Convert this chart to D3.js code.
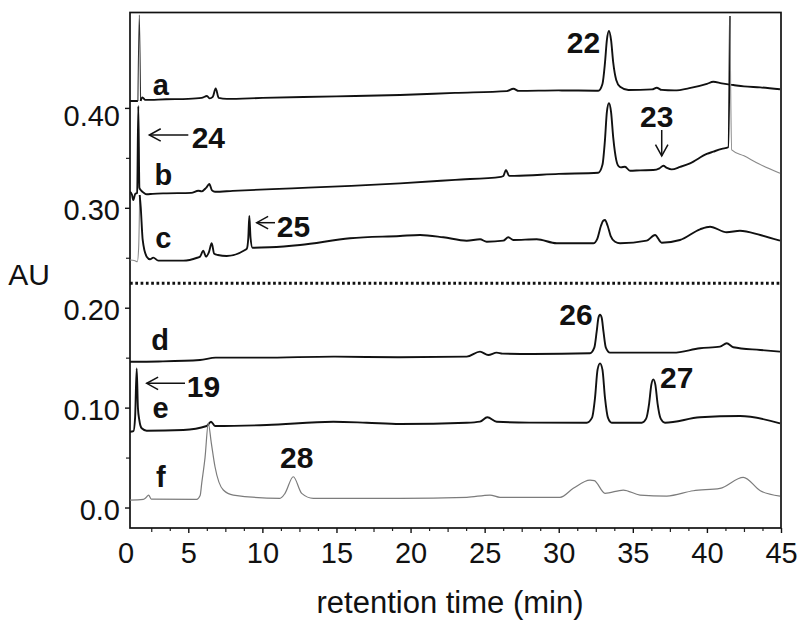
<!DOCTYPE html>
<html><head><meta charset="utf-8">
<script src="https://cdn.jsdelivr.net/npm/d3@7/dist/d3.min.js"></script>
<style>body{margin:0;background:#fff}svg{display:block}</style>
</head><body><svg id="chart" width="800" height="629"></svg>
<script>
// ---------------- data (retention time in min, absorbance in AU) ----------------
const traceA = [[1.066,0.4069],[1.60,0.4069],[1.694,0.493],[1.78,0.4069],[1.90,0.4105],[2.10,0.4080],[3.5,0.4086],[5.0,0.4090],[5.9,0.4100],[6.26,0.4119],[6.45,0.4095],[6.65,0.4110],[6.85,0.4196],[7.05,0.4100],[7.6,0.4090],[10,0.4100],[15,0.4115],[19.29,0.4129],[23,0.4150],[26.5,0.4168],[26.94,0.4192],[27.3,0.4170],[30,0.4175],[32.67,0.4172],[32.95,0.4240],[33.12,0.4450],[33.25,0.4680],[33.39,0.4770],[33.53,0.4680],[33.68,0.4450],[33.88,0.4280],[34.14,0.4212],[34.7,0.4180],[36.3,0.4185],[36.61,0.4202],[36.95,0.4180],[37.8,0.4175],[38.9,0.4200],[40.0,0.4240],[40.43,0.4262],[41.0,0.4245],[41.78,0.4229],[42.5,0.4215],[43.6,0.4205],[44.93,0.4186]];
const traceB = [[1.066,0.3161],[1.20,0.3130],[1.289,0.3078],[1.42,0.3140],[1.55,0.3150],[1.626,0.4019],[1.70,0.3200],[1.788,0.3178],[2.0,0.3150],[2.193,0.3135],[2.6,0.3140],[3.543,0.3145],[5.2,0.3150],[5.676,0.3171],[5.9,0.3165],[6.2,0.3200],[6.418,0.3238],[6.6,0.3175],[6.8,0.3161],[8,0.3170],[12,0.3195],[16,0.3220],[19.29,0.3245],[23,0.3280],[26.1,0.3310],[26.26,0.3318],[26.44,0.3378],[26.65,0.3320],[27,0.3320],[30,0.3340],[32.67,0.3351],[32.95,0.3430],[33.12,0.3680],[33.25,0.3960],[33.39,0.4046],[33.53,0.3960],[33.68,0.3700],[33.88,0.3480],[34.05,0.3415],[34.2,0.3405],[34.47,0.3411],[34.81,0.3371],[35.5,0.3375],[36.38,0.3378],[36.80,0.3395],[37.06,0.3421],[37.3,0.3400],[37.62,0.3385],[38.2,0.3410],[38.86,0.3445],[39.99,0.3539],[40.43,0.3562],[41.0,0.3590],[41.44,0.3606],[41.559,0.492],[41.673,0.3579],[42.5,0.3520],[43.5,0.3440],[44.933,0.3345]];
const traceC = [[1.066,0.2477],[1.40,0.2470],[1.559,0.2460],[1.65,0.2600],[1.72,0.3128],[1.788,0.3011],[1.923,0.2678],[2.193,0.2511],[2.416,0.2485],[2.639,0.2501],[2.976,0.2471],[4.663,0.2471],[5.6,0.2500],[5.79,0.2511],[6.013,0.2571],[6.195,0.2511],[6.40,0.2560],[6.58,0.2645],[6.75,0.2540],[7.0,0.2528],[7.592,0.2518],[8.827,0.2578],[8.95,0.2590],[9.05,0.2700],[9.118,0.2918],[9.20,0.2700],[9.33,0.2600],[10.5,0.2605],[12.539,0.2628],[15.914,0.2695],[19.288,0.2718],[20.638,0.2728],[22.21,0.2705],[23.789,0.2671],[24.687,0.2685],[25.139,0.2661],[26.259,0.2671],[26.597,0.2705],[26.935,0.2678],[28.514,0.2685],[29.864,0.2645],[32.333,0.2645],[32.6,0.2690],[32.85,0.2820],[33.0,0.2870],[33.123,0.2878],[33.3,0.2820],[33.5,0.2720],[33.8,0.2660],[34.136,0.2645],[35.937,0.2671],[36.497,0.2728],[36.949,0.2651],[38.184,0.2678],[39.534,0.2785],[40.209,0.2811],[41.336,0.2755],[42.233,0.2771],[43.603,0.2728],[44.933,0.2671]];
const traceD = [[1.066,0.1459],[3,0.1462],[5.79,0.1476],[6.85,0.1500],[10,0.1500],[14.787,0.1510],[19.288,0.1504],[23.789,0.1510],[24.687,0.1560],[25.247,0.1527],[25.814,0.1550],[26.2,0.1540],[28.284,0.1537],[32.11,0.1544],[32.40,0.1600],[32.56,0.1760],[32.68,0.1900],[32.786,0.1930],[32.90,0.1900],[33.02,0.1760],[33.18,0.1600],[33.461,0.1550],[37.732,0.1550],[39.534,0.1594],[40.884,0.1610],[41.336,0.1644],[41.781,0.1604],[43.603,0.1577],[44.933,0.1560]];
const traceE = [[1.066,0.0759],[1.30,0.0765],[1.41,0.0900],[1.518,0.1393],[1.60,0.1000],[1.694,0.0876],[1.855,0.0793],[2.193,0.0769],[4.663,0.0776],[6.243,0.0816],[6.533,0.0859],[6.803,0.0816],[10.292,0.0826],[14.787,0.0859],[17.04,0.0849],[19.288,0.0836],[23.789,0.0849],[24.687,0.0860],[25.18,0.0903],[25.814,0.0859],[28,0.0850],[31.888,0.0849],[32.25,0.0900],[32.45,0.1100],[32.62,0.1380],[32.786,0.1443],[32.95,0.1380],[33.12,0.1100],[33.32,0.0900],[33.575,0.0849],[35.6,0.0849],[35.9,0.0890],[36.1,0.1040],[36.25,0.1230],[36.383,0.1283],[36.52,0.1230],[36.67,0.1040],[36.88,0.0890],[37.172,0.0849],[39.534,0.0903],[42.233,0.0916],[44.933,0.0843]];
const traceF = [[1.066,0.0075],[1.964,0.0082],[2.15,0.0100],[2.32,0.0125],[2.5,0.0085],[5.568,0.0082],[5.80,0.0120],[5.905,0.0242],[6.13,0.0500],[6.351,0.0843],[6.55,0.0650],[6.803,0.0408],[7.363,0.0175],[8.038,0.0125],[11.189,0.0092],[11.527,0.0142],[12.087,0.0308],[12.654,0.0142],[13.437,0.0092],[19.288,0.0092],[23.789,0.0102],[25.362,0.0125],[26.037,0.0102],[30.086,0.0102],[30.984,0.0192],[32.11,0.0275],[32.4,0.0270],[33.123,0.0142],[34.358,0.0175],[35.485,0.0125],[37.287,0.0115],[39.082,0.0168],[40.884,0.0192],[42.456,0.0302],[43.603,0.0168],[44.933,0.0115]];

const traceNames = ["a","b","c","d","e","f"];
const xTickValues = [5,10,15,20,25,30,35,40,45];
const xTickLabels = ["0","5","10","15","20","25","30","35","40","45"];
const yTickValues = [0,0.1,0.2,0.3,0.4];
const yTickLabels = ["0.0","0.10","0.20","0.30","0.40"];
const peakNames = ["22","23","24","25","26","27","28","19"];
const separatorAU = 0.2245;

// ---------------- layout ----------------
const X_MIN = 1.066, X_MAX = 45, Y_MIN = -0.0205, Y_MAX = 0.4955;
const L = 130, R = 781, T = 12.5, B = 528;
const svg = d3.select("#chart");
const FONT = "'Liberation Sans', Arial, Helvetica, sans-serif";
const x = d3.scaleLinear().domain([X_MIN, X_MAX]).range([L, R]);
const y = d3.scaleLinear().domain([Y_MIN, Y_MAX]).range([B, T]);

svg.append("defs").append("clipPath").attr("id","clip")
  .append("rect").attr("x",L).attr("y",T).attr("width",R-L).attr("height",B-T);

// minor ticks
const xMinor = d3.range(2.5, 45.01, 1.25).filter(v => Math.abs(v/5-Math.round(v/5))>1e-6);
svg.append("g").attr("transform",`translate(0,${B})`)
  .call(d3.axisBottom(x).tickValues(xMinor).tickSize(3).tickFormat(""))
  .call(g=>g.select(".domain").remove())
  .call(g=>g.selectAll("line").attr("stroke","#222").attr("stroke-width",1.2)
     .attr("y2", d => Math.abs(d/2.5-Math.round(d/2.5))<1e-6 ? 4 : 3));
const yMinor = [0.05,0.15,0.25,0.35];
svg.append("g").attr("transform",`translate(${L},0)`)
  .call(d3.axisLeft(y).tickValues(yMinor).tickSize(4).tickFormat(""))
  .call(g=>g.select(".domain").remove())
  .call(g=>g.selectAll("line").attr("stroke","#222").attr("stroke-width",1.2));

// major x axis
const xAxis = svg.append("g").attr("transform",`translate(0,${B})`)
  .call(d3.axisBottom(x).tickValues([X_MIN].concat(xTickValues)).tickSize(5)
    .tickFormat((d,i)=>xTickLabels[i]));
xAxis.select(".domain").remove();
xAxis.selectAll("line").attr("stroke","#111").attr("stroke-width",1.4);
xAxis.selectAll("text").attr("y",35).attr("dy",0).attr("fill","#111")
  .style("font-family",FONT).style("font-size","29px")
  .attr("dx",(d,i)=> i===0 ? -4.5 : 0);
xAxis.selectAll(".tick").filter((d,i)=>i===0).select("line").remove();

// major y axis
const yAxis = svg.append("g").attr("transform",`translate(${L},0)`)
  .call(d3.axisLeft(y).tickValues(yTickValues).tickSize(5).tickPadding(5)
    .tickFormat((d,i)=>yTickLabels[i]));
yAxis.select(".domain").remove();
yAxis.selectAll("line").attr("stroke","#111").attr("stroke-width",1.4);
yAxis.selectAll("text").attr("dy",(d)=> d>0.35 ? "0.6em" : "0.42em").attr("fill","#111")
  .style("font-family",FONT).style("font-size","29px");

// frame
svg.append("rect").attr("x",L).attr("y",T).attr("width",R-L).attr("height",B-T)
  .attr("fill","none").attr("stroke","#111").attr("stroke-width",1.7);

// dotted separator
svg.append("line").attr("x1",L).attr("x2",R).attr("y1",y(separatorAU)).attr("y2",y(separatorAU))
  .attr("stroke","#111").attr("stroke-width",3).attr("stroke-dasharray","2.7,2.6");

// traces
const line = d3.line().x(d=>x(d[0])).y(d=>y(d[1])).curve(d3.curveMonotoneX);
const thinRanges = { a:[[1.60,1.78]], b:[[41.559,46]], c:[[0,1.72]], d:[], e:[], f:[[0,46]] };
const thinStyle = { a:{c:"#333",w:1.1}, b:{c:"#8a8a8a",w:1.1}, c:{c:"#8a8a8a",w:1.1}, f:{c:"#7c7c7c",w:1.2} };
const traces = [traceA,traceB,traceC,traceD,traceE,traceF];
const plot = svg.append("g").attr("clip-path","url(#clip)");
traces.forEach((pts,k)=>{
  const name = traceNames[k];
  const isThin = (a,b)=>{const m=(a[0]+b[0])/2; return thinRanges[name].some(([lo,hi])=>m>=lo&&m<=hi);};
  const segs=[]; let cur=null;
  for(let i=0;i<pts.length-1;i++){
    const t = isThin(pts[i],pts[i+1]);
    if(!cur || cur.thin!==t){ cur={thin:t,pts:[pts[i]]}; segs.push(cur); }
    cur.pts.push(pts[i+1]);
  }
  segs.forEach(s=>{
    plot.append("path").attr("d",line(s.pts)).attr("fill","none")
      .attr("stroke", s.thin ? thinStyle[name].c : "#111")
      .attr("stroke-width", s.thin ? thinStyle[name].w : 1.9)
      .attr("stroke-linejoin","round");
  });
});

// trace letters
const letterPos = {a:[3.138,0.4129], b:[3.314,0.3228], c:[3.314,0.2595], d:[3.091,0.1577], e:[3.125,0.0893], f:[3.145,0.0208]};
traceNames.forEach(n=>{
  svg.append("text").attr("x",x(letterPos[n][0])).attr("y",y(letterPos[n][1]))
    .attr("text-anchor","middle").style("font-family",FONT).style("font-weight","bold")
    .style("font-size","29px").attr("fill","#111").text(n);
});

// peak numbers
const peakPos = {"22":[30.54,0.4546],"23":[35.485,0.3812],"24":[5.23,0.3596],"25":[10.967,0.2711],
  "26":[30.04,0.1827],"27":[36.835,0.1193],"28":[11.19,0.0392],"19":[4.893,0.1109]};
peakNames.forEach(n=>{
  svg.append("text").attr("x",x(peakPos[n][0])).attr("y",y(peakPos[n][1]))
    .style("font-family",FONT).style("font-weight","bold").style("font-size","30px")
    .attr("fill","#111").text(n);
});

// arrows (open heads)
function arrow(t0,v0,t1,v1){
  const x0=x(t0),y0=y(v0),x1=x(t1),y1=y(v1);
  const ang=Math.atan2(y1-y0,x1-x0), len=13, spread=0.5;
  const g=svg.append("g").attr("stroke","#111").attr("stroke-width",1.5).attr("fill","none");
  g.append("line").attr("x1",x0).attr("y1",y0).attr("x2",x1).attr("y2",y1);
  g.append("path").attr("d",`M${x1-len*Math.cos(ang-spread)},${y1-len*Math.sin(ang-spread)}L${x1},${y1}L${x1-len*Math.cos(ang+spread)},${y1-len*Math.sin(ang+spread)}`);
}
arrow(5.001,0.3729,2.369,0.3729);   // 24
arrow(10.852,0.2851,9.617,0.2851);  // 25
arrow(36.95,0.3779,36.95,0.3519);   // 23
arrow(4.778,0.1243,2.193,0.1243);   // 19

// axis titles
svg.append("text").attr("x",29).attr("y",285).attr("text-anchor","middle")
  .style("font-family",FONT).style("font-size","30px").attr("fill","#111").text("AU");
svg.append("text").attr("x",450).attr("y",613).attr("text-anchor","middle")
  .style("font-family",FONT).style("font-size","31px").attr("fill","#111").text("retention time (min)");
</script></body></html>
